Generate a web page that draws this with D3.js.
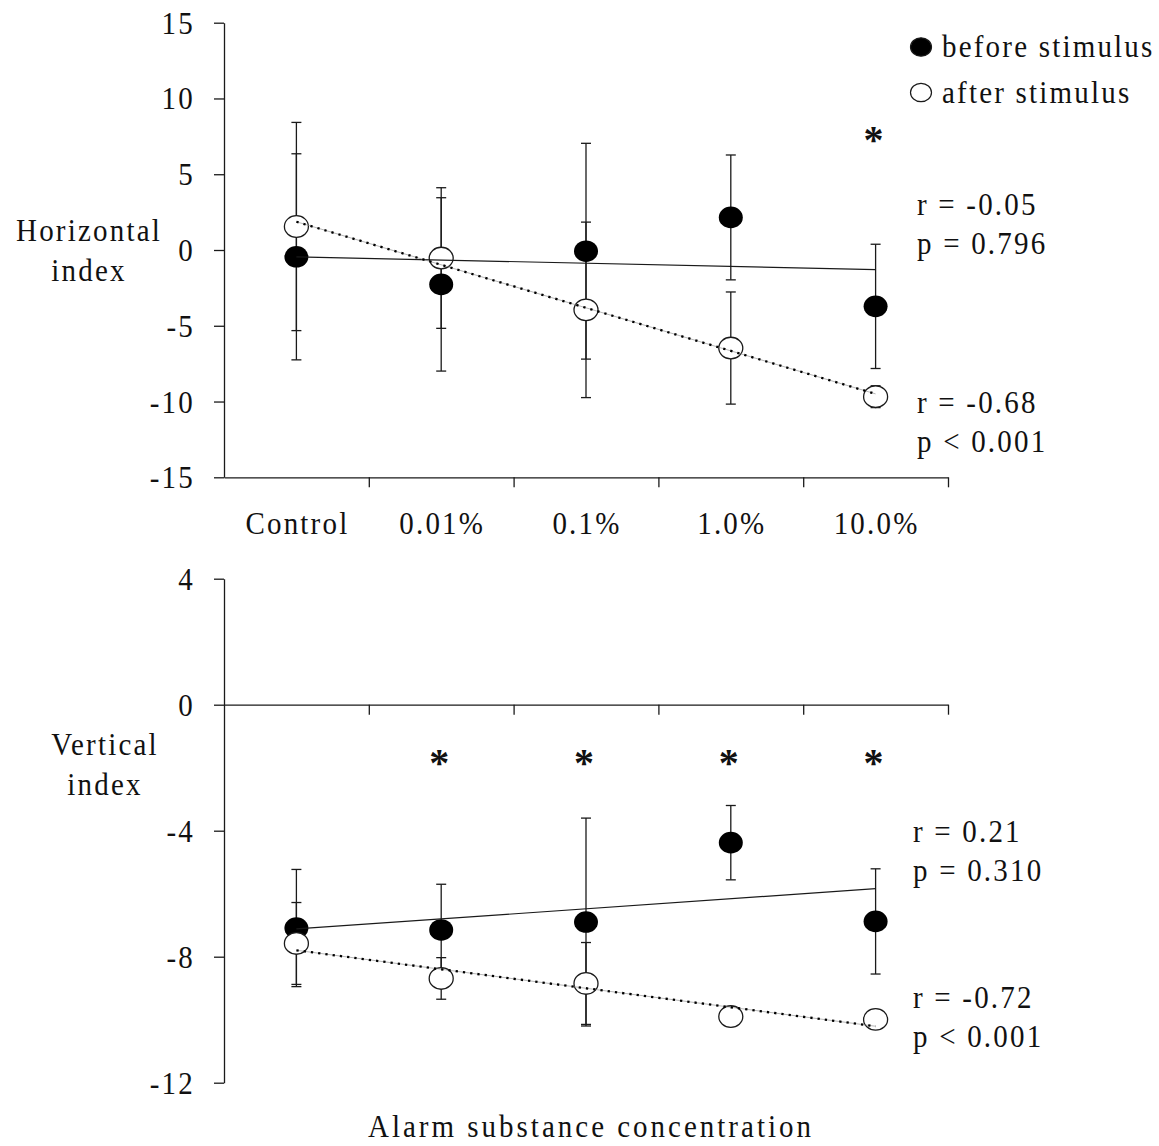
<!DOCTYPE html>
<html>
<head>
<meta charset="utf-8">
<script src="https://cdn.jsdelivr.net/npm/d3@7"></script>
<style>
  html, body { margin: 0; padding: 0; background: #fff; }
  svg text { font-family: "Liberation Serif", "Times New Roman", serif; fill: #111; }
</style>
</head>
<body>
<svg id="chart" width="1159" height="1146"></svg>
<script>
// Concentration groups along the x axis
const categories = ["Control", "0.01%", "0.1%", "1.0%", "10.0%"];

// Horizontal index: group means and standard errors
const horizBefore   = [-0.45, -2.27, -0.08, 2.15, -3.72];
const horizBeforeSE = [6.80, 5.72, 7.12, 4.12, 4.10];
const horizAfter    = [1.55, -0.53, -3.95, -6.47, -9.68];
const horizAfterSE  = [6.87, 4.64, 5.79, 3.70, 0.72];

// Vertical index: group means and standard errors
const vertBefore   = [-7.09, -7.15, -6.90, -4.38, -6.88];
const vertBeforeSE = [1.86, 1.45, 3.30, 1.18, 1.67];
const vertAfter    = [-7.58, -8.69, -8.85, -9.90, -9.99];
const vertAfterSE  = [1.30, 0.66, 1.30, 0.25, 0.25];

// Axis ticks
const horizTicks = [15, 10, 5, 0, -5, -10, -15];
const vertTicks  = [4, 0, -4, -8, -12];

// Correlation statistics
const horizStats = { before: ["r = -0.05", "p = 0.796"], after: ["r = -0.68", "p < 0.001"] };
const vertStats  = { before: ["r = 0.21", "p = 0.310"],  after: ["r = -0.72", "p < 0.001"] };

// Groups marked as significantly different (before vs after)
const horizSignif = ["10.0%"];
const vertSignif  = ["0.01%", "0.1%", "1.0%", "10.0%"];

const legendLabels = ["before stimulus", "after stimulus"];

const svg = d3.select("#chart");
const INK = "#1a1a1a";
const FS = 29, LS = 2.2, STRETCH = 1.1;

const x = d3.scaleLinear().domain([-0.5, categories.length - 0.5]).range([224, 948]);
const idx = d3.range(categories.length);

// text placed at (tx, ty) baseline, drawn slightly taller than wide
function label(parent, tx, ty, str, anchor = "start", ls = LS) {
  return parent.append("text")
    .attr("transform", `translate(${tx},${ty}) scale(1,${STRETCH})`)
    .attr("text-anchor", anchor)
    .attr("font-size", FS).attr("letter-spacing", ls)
    .text(str);
}

// least-squares line through the group means
function fit(vals) {
  const mx = d3.mean(idx), my = d3.mean(vals);
  const b = d3.sum(idx, i => (i - mx) * (vals[i] - my)) / d3.sum(idx, i => (i - mx) ** 2);
  const a = my - b * mx;
  return [0, categories.length - 1].map(i => [i, a + b * i]);
}

function panel(opt) {
  const y = d3.scaleLinear().domain(opt.domain).range(opt.range);
  const g = svg.append("g");

  // y axis
  const yAxis = g.append("g").attr("transform", `translate(${x.range()[0]},0)`)
    .call(d3.axisLeft(y).tickValues(opt.ticks).tickSize(10).tickSizeOuter(0).tickFormat(d => String(d)));
  yAxis.select(".domain").attr("stroke", INK).attr("stroke-width", 1.3);
  yAxis.selectAll(".tick line").attr("stroke", INK).attr("stroke-width", 1.3);
  yAxis.selectAll(".tick text").attr("x", -29).attr("dy", "0.33em")
    .attr("transform", `scale(1,${STRETCH})`)
    .attr("font-size", FS).attr("letter-spacing", LS).attr("font-family", "Liberation Serif").attr("fill", INK);

  // x axis (ticks between groups)
  const xAxis = g.append("g").attr("transform", `translate(0,${y(opt.xAxisAt)})`)
    .call(d3.axisBottom(x).tickValues(idx.map(i => i + 0.5)).tickSize(10).tickSizeOuter(0).tickFormat(""));
  xAxis.select(".domain").attr("stroke", INK).attr("stroke-width", 1.3);
  xAxis.selectAll(".tick line").attr("stroke", INK).attr("stroke-width", 1.3);

  // error bars
  const series = [
    { mean: opt.after, se: opt.afterSE },
    { mean: opt.before, se: opt.beforeSE }
  ];
  series.forEach(s => {
    const eb = g.append("g").attr("stroke", INK).attr("stroke-width", 1.3);
    idx.forEach(i => {
      const cx = x(i), y1 = y(s.mean[i] + s.se[i]), y2 = y(s.mean[i] - s.se[i]);
      eb.append("line").attr("x1", cx).attr("x2", cx).attr("y1", y1).attr("y2", y2);
      eb.append("line").attr("x1", cx - 5).attr("x2", cx + 5).attr("y1", y1).attr("y2", y1);
      eb.append("line").attr("x1", cx - 5).attr("x2", cx + 5).attr("y1", y2).attr("y2", y2);
    });
  });

  // markers
  g.append("g").selectAll("ellipse").data(idx).join("ellipse")
    .attr("cx", i => x(i)).attr("cy", i => y(opt.before[i]))
    .attr("rx", 12).attr("ry", 10.8).attr("fill", "#000");
  g.append("g").selectAll("ellipse").data(idx).join("ellipse")
    .attr("cx", i => x(i)).attr("cy", i => y(opt.after[i]))
    .attr("rx", 12).attr("ry", 10.8).attr("fill", "#fff").attr("stroke", INK).attr("stroke-width", 1.3);

  // regression lines
  const line = d3.line().x(d => x(d[0])).y(d => y(d[1]));
  g.append("path").attr("d", line(fit(opt.before))).attr("fill", "none")
    .attr("stroke", INK).attr("stroke-width", 1.2);
  const af = fit(opt.after);
  g.append("path").attr("d", line(af)).attr("fill", "none")
    .attr("stroke", "#888").attr("stroke-width", 0.6);
  g.append("path").attr("d", line(af)).attr("fill", "none")
    .attr("stroke", "#000").attr("stroke-width", 2.3).attr("stroke-dasharray", "2.3,5");

  // significance marks, centred on (x, sigY)
  opt.signif.forEach(d => {
    const t = g.append("text").attr("x", 0).attr("y", 0)
      .attr("text-anchor", "middle").attr("font-size", 40).attr("font-weight", "bold").text("*");
    const bb = t.node().getBBox();
    const cx = x(categories.indexOf(d)) - 2;
    t.attr("x", cx).attr("y", opt.sigY - (bb.y + bb.height / 2));
  });

  // statistics text
  const st = g.append("g");
  [["before", opt.statBeforeY], ["after", opt.statAfterY]].forEach(([k, yy]) => {
    opt.stats[k].forEach((t, j) => label(st, opt.statX, yy + j * 39, t));
  });

  // y axis title
  const tt = g.append("g");
  opt.title.forEach((t, j) => label(tt, opt.titleX, opt.titleY + j * 39.5, t, "middle"));

  return { g, y };
}

// upper panel: horizontal index
const upperPanel = panel({
  domain: [-15, 15], range: [477.3, 22.7], ticks: horizTicks, xAxisAt: -15,
  before: horizBefore, beforeSE: horizBeforeSE, after: horizAfter, afterSE: horizAfterSE,
  signif: horizSignif, sigY: 139, stats: horizStats, statX: 917, statBeforeY: 215, statAfterY: 413,
  title: ["Horizontal", "index"], titleX: 89, titleY: 241
});

// category labels under the upper panel
const catG = upperPanel.g.append("g");
categories.forEach((c, i) => label(catG, x(i) + 1, 534, c, "middle"));

// lower panel: vertical index
panel({
  domain: [-12, 4], range: [1082.7, 578.7], ticks: vertTicks, xAxisAt: 0,
  before: vertBefore, beforeSE: vertBeforeSE, after: vertAfter, afterSE: vertAfterSE,
  signif: vertSignif, sigY: 762, stats: vertStats, statX: 913, statBeforeY: 842, statAfterY: 1008,
  title: ["Vertical", "index"], titleX: 105, titleY: 755
});

// x axis title
label(svg, 591, 1137, "Alarm substance concentration", "middle", 3.0);

// legend
const lg = svg.append("g");
legendLabels.forEach((t, j) => {
  const yy = 47 + j * 45.5;
  lg.append("ellipse").attr("cx", 921).attr("cy", yy).attr("rx", 10.5).attr("ry", 9.2)
    .attr("fill", j === 0 ? "#000" : "#fff").attr("stroke", INK).attr("stroke-width", 1.2);
  label(lg, 942, yy + 10, t);
});
</script>
</body>
</html>
